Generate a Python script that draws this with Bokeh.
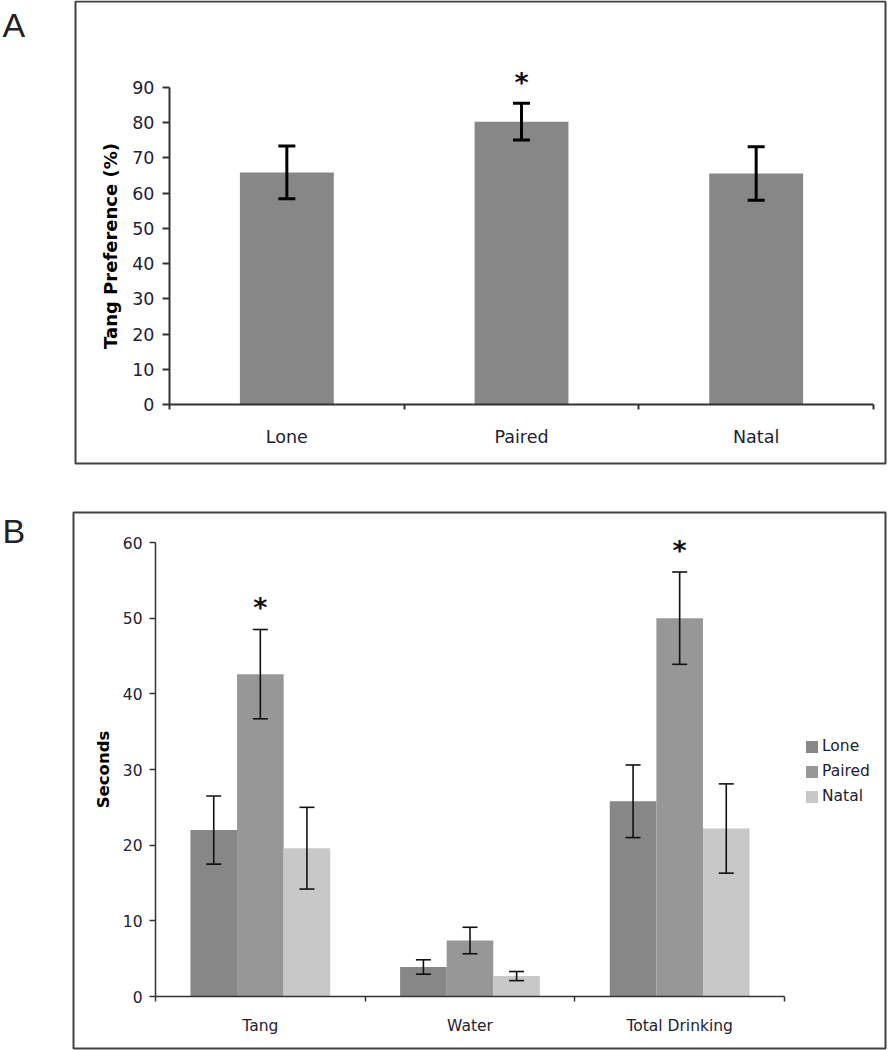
from bokeh.plotting import figure
from bokeh.models import (LinearAxis, FixedTicker, Range1d, ColumnDataSource,
                          Whisker, TeeHead, Label, Legend, BoxAnnotation)
from bokeh.layouts import column
from bokeh.embed import file_html
from bokeh.resources import INLINE
from bokeh.core.properties import value

# ---------------- data ----------------
a_categories = ["Lone", "Paired", "Natal"]
a_means = [65.9, 80.3, 65.6]
a_sem = [7.5, 5.2, 7.6]
a_sig = ["", "*", ""]
a_yticks = [0, 10, 20, 30, 40, 50, 60, 70, 80, 90]

b_categories = ["Tang", "Water", "Total Drinking"]
b_groups = ["Lone", "Paired", "Natal"]
b_lone = [22.0, 3.9, 25.8]
b_lone_sem = [4.5, 0.95, 4.8]
b_paired = [42.6, 7.4, 50.0]
b_paired_sem = [5.9, 1.75, 6.1]
b_natal = [19.6, 2.7, 22.2]
b_natal_sem = [5.4, 0.6, 5.9]
b_sig = ["*", "", "*"]
b_yticks = [0, 10, 20, 30, 40, 50, 60]

FONT = "DejaVu Sans"
TXT = "#222233"
AXC = "#333333"
BOX = "#404040"
W = 891


class Mapper:
    """page-pixel <-> data conversion for one panel (layout only)."""
    def __init__(self, x0px, xnpx, n, y0px, ymaxpx, ymax, fig_top, fig_h):
        self.kx = n / (xnpx - x0px)
        self.x0px = x0px
        self.ky = ymax / (y0px - ymaxpx)
        self.y0px = y0px
        self.fig_top = fig_top
        self.fig_h = fig_h

    def x(self, px):
        return (px - self.x0px) * self.kx

    def y(self, py):
        return (self.y0px - py) * self.ky

    def xrange(self):
        return Range1d(self.x(0), self.x(W))

    def yrange(self):
        return Range1d(self.y(self.fig_top + self.fig_h), self.y(self.fig_top))


def make_fig(m):
    p = figure(width=W, height=m.fig_h, x_range=m.xrange(), y_range=m.yrange(),
               x_axis_type=None, y_axis_type=None, output_backend="svg",
               toolbar_location=None, min_border_left=0, min_border_right=0,
               min_border_top=0, min_border_bottom=0)
    p.title.visible = False
    p.outline_line_color = None
    p.background_fill_color = "white"
    p.border_fill_color = "white"
    return p


def cat_axes(p, cats, fsize, standoff, tick_w, line_w, ymax, yticks, ylabel,
             ylab_size, ylab_standoff, ytick_out, ylab_standoff_ticks, xtick_out):
    n = len(cats)
    centers = [i + 0.5 for i in range(n)]
    xa = LinearAxis(fixed_location=0, bounds=(0, n),
                    ticker=FixedTicker(ticks=centers, minor_ticks=list(range(n + 1))),
                    major_label_overrides={c: name for c, name in zip(centers, cats)})
    xa.major_tick_out = 0
    xa.major_tick_in = 0
    xa.minor_tick_out = xtick_out
    xa.minor_tick_in = 0
    xa.minor_tick_line_color = AXC
    xa.minor_tick_line_width = tick_w
    xa.axis_line_color = AXC
    xa.axis_line_width = line_w
    xa.major_label_text_font = FONT
    xa.major_label_text_font_size = fsize
    xa.major_label_text_color = TXT
    xa.major_label_standoff = standoff
    p.add_layout(xa, "below")

    ya = LinearAxis(fixed_location=0, bounds=(0, ymax),
                    ticker=FixedTicker(ticks=yticks), axis_label=ylabel)
    ya.major_tick_out = ytick_out
    ya.major_tick_in = 0
    ya.minor_tick_out = 0
    ya.minor_tick_in = 0
    ya.major_tick_line_color = AXC
    ya.major_tick_line_width = tick_w
    ya.axis_line_color = AXC
    ya.axis_line_width = line_w
    ya.major_label_text_font = FONT
    ya.major_label_text_font_size = fsize
    ya.major_label_text_color = TXT
    ya.major_label_standoff = ylab_standoff_ticks
    ya.axis_label_text_font = FONT
    ya.axis_label_text_font_size = ylab_size
    ya.axis_label_text_font_style = "bold"
    ya.axis_label_text_color = "#000000"
    ya.axis_label_standoff = ylab_standoff
    p.add_layout(ya, "left")
    return centers


def frame_box(p, m, l, r, t, b):
    p.add_layout(BoxAnnotation(left=m.x(l), right=m.x(r), top=m.y(t), bottom=m.y(b),
                               fill_color=None, fill_alpha=0, line_color=BOX,
                               line_alpha=1.0, line_width=2, level="overlay"))


def panel_letter(p, m, txt, px, py):
    p.add_layout(Label(x=m.x(px), y=m.y(py), text=txt, text_font="Liberation Sans",
                       text_font_size="34px", text_baseline="top", text_align="left",
                       text_color="#222222"))


# ---------------- panel A ----------------
mA = Mapper(169, 873, 3, 404, 87, 90, 0, 490)
pA = make_fig(mA)
frame_box(pA, mA, 75, 885, 1, 463)
panel_letter(pA, mA, "A", 2, 5)

ax = cat_axes(pA, a_categories, "17.5px", 17, 2, 2, 90, a_yticks,
              "Tang Preference (%)", "18px", 8, 7, 8, 5)

pA.vbar(x=ax, top=a_means, bottom=0, width=0.4, fill_color="#878787",
        line_color=None)
srcA = ColumnDataSource(dict(x=ax,
                             upper=[mm + s for mm, s in zip(a_means, a_sem)],
                             lower=[mm - s for mm, s in zip(a_means, a_sem)]))
pA.add_layout(Whisker(source=srcA, base="x", upper="upper", lower="lower",
                      line_color="black", line_width=3, level="annotation",
                      upper_head=TeeHead(size=17, line_width=3, line_color="black"),
                      lower_head=TeeHead(size=17, line_width=3, line_color="black")))
pA.text(x=ax, y=srcA.data["upper"], text=a_sig, text_font=value(FONT),
        text_font_size="27px", text_font_style="bold", text_align="center",
        text_baseline="alphabetic", y_offset=-21, text_color="#111111")

# ---------------- panel B ----------------
mB = Mapper(155, 784, 3, 996, 542, 60, 490, 560)
pB = make_fig(mB)
frame_box(pB, mB, 73, 885, 512, 1048)
panel_letter(pB, mB, "B", 2, 511)

bx = cat_axes(pB, b_categories, "15.5px", 15, 1.5, 1.5, 60, b_yticks,
              "Seconds", "16.5px", 7, 6, 7, 5)

bw = 2.0 / 9.0
series = [(b_groups[0], b_lone, b_lone_sem, -bw, "#878787"),
          (b_groups[1], b_paired, b_paired_sem, 0.0, "#979797"),
          (b_groups[2], b_natal, b_natal_sem, bw, "#c8c8c8")]
items = []
for name, vals, sems, off, col in series:
    xs = [c + off for c in bx]
    r = pB.vbar(x=xs, top=vals, bottom=0, width=bw, fill_color=col, line_color=None)
    items.append((name, [r]))
    src = ColumnDataSource(dict(x=xs,
                                upper=[mm + s for mm, s in zip(vals, sems)],
                                lower=[mm - s for mm, s in zip(vals, sems)]))
    pB.add_layout(Whisker(source=src, base="x", upper="upper", lower="lower",
                          line_color="#111111", line_width=1.6, level="annotation",
                          upper_head=TeeHead(size=15, line_width=1.6, line_color="#111111"),
                          lower_head=TeeHead(size=15, line_width=1.6, line_color="#111111")))
    if name == "Paired":
        pB.text(x=xs, y=src.data["upper"], text=b_sig, text_font=value(FONT),
                text_font_size="27px", text_font_style="bold", text_align="center",
                text_baseline="alphabetic", y_offset=-22, text_color="#111111")

legend = Legend(items=items, location=(804, 244), border_line_color=None,
                background_fill_alpha=0, padding=0, margin=0, spacing=5,
                glyph_height=15, glyph_width=15, label_height=20, label_standoff=3,
                label_text_font=FONT, label_text_font_size="15.5px",
                label_text_color=TXT)
pB.add_layout(legend)

layout = column(pA, pB)
open("out.html", "w").write(file_html(layout, INLINE))
